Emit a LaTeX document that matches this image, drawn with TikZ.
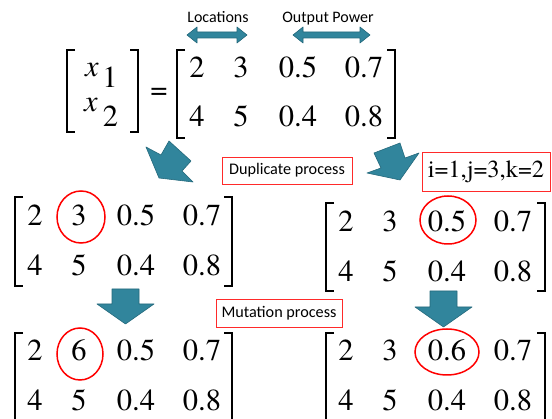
\documentclass[tikz,border=0pt]{standalone}
\usepackage{fontspec}
\newfontfamily\numfont{texgyretermes}[Extension=.otf, UprightFont=*-regular, ItalicFont=*-italic]
\newfontfamily\labelfont{Carlito}
\definecolor{tealfill}{HTML}{31859C}
\definecolor{tealedge}{HTML}{24697C}
\definecolor{boxred}{HTML}{FF2A2A}
\tikzset{
  num/.style={anchor=base, inner sep=0pt, font=\numfont\fontsize{30.5}{30.5}\selectfont},
  brk/.style={line width=1.3pt, black},
  lbl/.style={inner sep=0pt, font=\labelfont\fontsize{16}{16}\selectfont},
  redbox/.style={draw=boxred, line width=0.8pt, inner sep=0pt, font=\labelfont\fontsize{16.2}{16.2}\selectfont},
  ring/.style={draw=red, line width=1.5pt},
  tealshape/.style={fill=tealfill, draw=tealedge, line width=0.6pt, line join=round},
}
% matrix row: name prefix, left bracket x, baseline, four entries
\newcommand\mrow[7]{%
  \node[num] (#1a) at (#2+20,#3) {#4};
  \node[num] (#1b) at (#2+64,#3) {#5};
  \node[num] (#1c) at (#2+121,#3) {#6};
  \node[num] (#1d) at (#2+187,#3) {#7};}
% brackets: left x, right x, top y, bottom y
\newcommand\brackets[4]{%
  \draw[brk] (#1+8,#3) -- (#1,#3) -- (#1,#4) -- (#1+8,#4);
  \draw[brk] (#2-8,#3) -- (#2,#3) -- (#2,#4) -- (#2-8,#4);}
\begin{document}
\begin{tikzpicture}[x=1pt,y=-1pt]
\useasboundingbox (0,0) rectangle (552,419);
\fill[white] (0,0) rectangle (552,419);

% top labels and double arrows
\node[lbl, anchor=base] (loc) at (218,23) {Locations};
\node[lbl, anchor=base] (pow) at (328,23) {Output Power};
\draw[tealshape] (187,35) -- (197,27) -- (197,32) -- (237,32) -- (237,27) -- (247,35)
  -- (237,43) -- (237,38) -- (197,38) -- (197,43) -- cycle;
\draw[tealshape] (293,35) -- (303,27) -- (303,32) -- (360,32) -- (360,27) -- (370,35)
  -- (360,43) -- (360,38) -- (303,38) -- (303,43) -- cycle;

% x vector
\brackets{67}{138}{50}{132}
\node[num, font=\numfont\itshape\fontsize{30.5}{30.5}\selectfont] (x1) at (92,77) {x};
\node[num] (s1) at (110,88) {1};
\node[num, font=\numfont\itshape\fontsize{30.5}{30.5}\selectfont] (x2) at (91,112) {x};
\node[num] (s2) at (110.5,127) {2};
\node[num] (eq) at (159,100) {=};

% top matrix
\brackets{177}{395}{50}{138}
\mrow{t1}{177}{78}{2}{3}{0.5}{0.7}
\mrow{t2}{177}{127}{4}{5}{0.4}{0.8}

% rotated arrows
\draw[tealshape] (146,147) -- (161,155) -- (169,141) -- (191,161) -- (182,171) -- (193,182) -- (159,178) -- cycle;
\draw[tealshape] (374,153) -- (400,143) -- (405,158) -- (419,153) -- (400,180) -- (367,173) -- (381,168) -- cycle;

% boxes
\node[redbox, minimum width=130pt, minimum height=27pt] (dup) at (287,170.5) {Duplicate process};
\node[redbox, minimum width=128pt, minimum height=39pt, font=\numfont\fontsize{24.5}{24.5}\selectfont] (ijk) at (486,171.5) {i=1,j=3,k=2};

% lower-left matrix
\brackets{15}{232}{197}{286}
\mrow{l1}{15}{226}{2}{3}{0.5}{0.7}
\mrow{l2}{15}{276}{4}{5}{0.4}{0.8}
\draw[ring] (81,217) ellipse [x radius=24, y radius=26];

% lower-right matrix
\brackets{326}{545}{203}{291}
\mrow{r1}{326}{232}{2}{3}{0.5}{0.7}
\mrow{r2}{326}{282}{4}{5}{0.4}{0.8}
\draw[ring] (448,220) ellipse [x radius=28, y radius=24];

% down arrows
\draw[tealshape] (112,289) -- (139,289) -- (139,304) -- (154,304) -- (125.5,324) -- (97,304) -- (112,304) -- cycle;
\draw[tealshape] (430,291) -- (457,291) -- (457,307) -- (472,307) -- (443.5,327) -- (415,307) -- (430,307) -- cycle;

\node[redbox, minimum width=126pt, minimum height=28pt] (mut) at (279,313) {Mutation process};

% bottom-left matrix
\brackets{15}{232}{333}{440}
\mrow{b1}{15}{361}{2}{6}{0.5}{0.7}
\mrow{b2}{15}{411}{4}{5}{0.4}{0.8}
\draw[ring] (80,354) ellipse [x radius=23, y radius=26];

% bottom-right matrix
\brackets{326}{545}{333}{440}
\mrow{c1}{326}{361}{2}{3}{0.6}{0.7}
\mrow{c2}{326}{411}{4}{5}{0.4}{0.8}
\draw[ring] (447,352) ellipse [x radius=32, y radius=23];
\end{tikzpicture}
\end{document}
